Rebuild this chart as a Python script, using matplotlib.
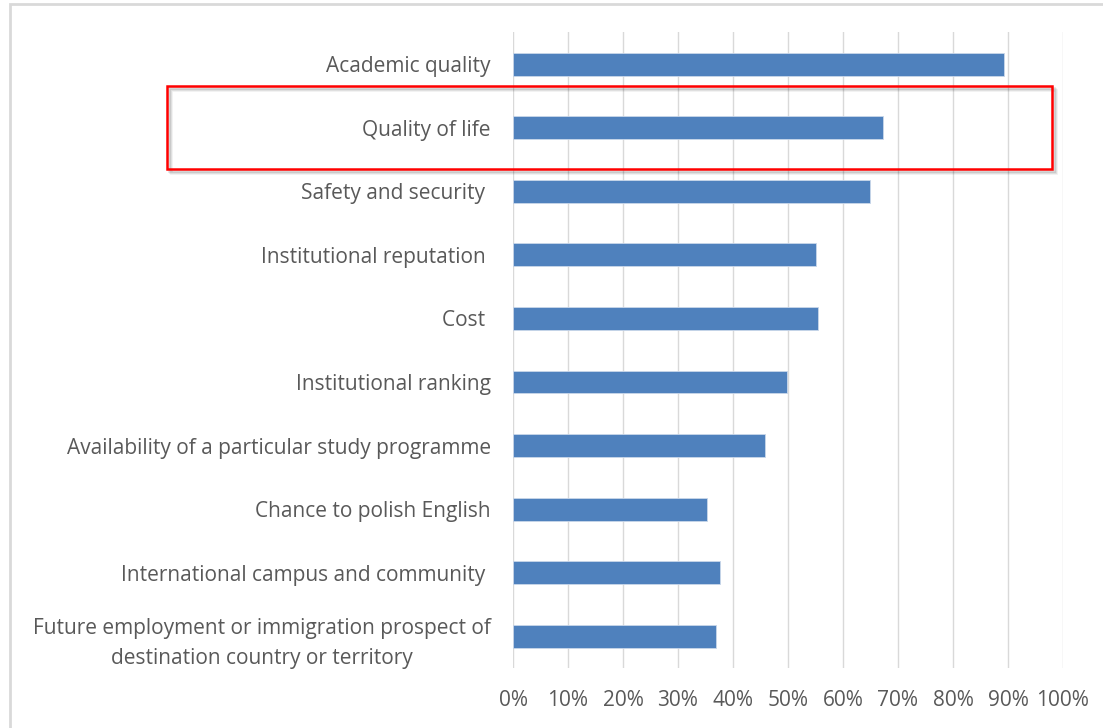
import matplotlib
matplotlib.use('Agg')
import matplotlib.pyplot as plt
from matplotlib.patches import Rectangle
from matplotlib.ticker import PercentFormatter

# Survey factors, top to bottom
factors = [
    "Academic quality",
    "Quality of life",
    "Safety and security ",
    "Institutional reputation ",
    "Cost ",
    "Institutional ranking",
    "Availability of a particular study programme",
    "Chance to polish English",
    "International campus and community ",
    "Future employment or immigration prospect of\ndestination country or territory",
]
shares = [89.2, 67.2, 64.9, 55.1, 55.4, 49.8, 45.8, 35.3, 37.7, 36.9]
x_ticks = list(range(0, 101, 10))

W, H = 1103, 728
fig = plt.figure(figsize=(W / 100, H / 100), dpi=100)
fig.patch.set_facecolor('white')

# axes placed to match the plot area in pixels
ax = fig.add_axes([513 / W, 1 - 668 / H, 550 / W, 635.6 / H])

ypos = list(range(len(factors)))
ax.barh(ypos, shares, height=0.36, color='#4F81BD', edgecolor='#c9d7ea', linewidth=0.6, zorder=3)

ax.set_xlim(0, 100)
ax.set_ylim(len(factors) - 0.5, -0.5)
ax.set_xticks(x_ticks)
ax.xaxis.set_major_formatter(PercentFormatter(decimals=0))
ax.set_yticks(ypos)
ax.set_yticklabels(factors)
for lbl in ax.get_yticklabels():
    lbl.set_multialignment('center')
    lbl.set_linespacing(1.55)

ax.grid(axis='x', color='#d9d9d9', linewidth=1.0, zorder=0)
for s in ax.spines.values():
    s.set_visible(False)
ax.tick_params(axis='both', length=0, labelsize=15, labelcolor='#595959')
ax.tick_params(axis='y', pad=16)
ax.tick_params(axis='x', pad=16)
for lbl in ax.get_xticklabels() + ax.get_yticklabels():
    lbl.set_fontfamily('Open Sans')

# outer frame of the chart area
fig.patches.append(Rectangle((10 / W, -0.1), 1.2, 1 - 4 / H + 0.1, transform=fig.transFigure,
                             fill=False, edgecolor='#d9d9d9', linewidth=2))

# highlight box with soft shadow
bx0, by0, bx1, by1 = 167, 86, 1052, 169
for off, a in [(4, 0.06), (3, 0.08), (2, 0.10)]:
    fig.patches.append(Rectangle(((bx0 + off) / W, 1 - (by1 + off) / H), (bx1 - bx0) / W, (by1 - by0) / H,
                                 transform=fig.transFigure, fill=False, edgecolor='black',
                                 alpha=a, linewidth=2))
fig.patches.append(Rectangle((bx0 / W, 1 - by1 / H), (bx1 - bx0) / W, (by1 - by0) / H,
                             transform=fig.transFigure, fill=False, edgecolor='#ff0000', linewidth=1.8))

fig.savefig('out.png', dpi=100)
